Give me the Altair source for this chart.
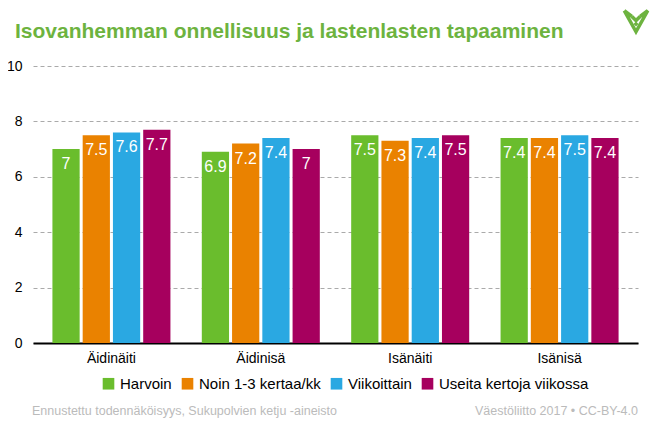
import altair as alt
import pandas as pd

groups = ["Äidinäiti", "Äidinisä", "Isänäiti", "Isänisä"]
series = ["Harvoin", "Noin 1-3 kertaa/kk", "Viikoittain", "Useita kertoja viikossa"]
colors = ["#6ABD2D", "#EA8200", "#2AA8E2", "#A6005E"]
values = {
    "Harvoin": [7.0, 6.9, 7.5, 7.4],
    "Noin 1-3 kertaa/kk": [7.5, 7.2, 7.3, 7.4],
    "Viikoittain": [7.6, 7.4, 7.4, 7.5],
    "Useita kertoja viikossa": [7.7, 7.0, 7.5, 7.4],
}

rows = []
for s in series:
    for g, v in zip(groups, values[s]):
        rows.append({"group": g, "series": s, "value": v, "label": f"{v:g}"})
df = pd.DataFrame(rows)

FONT = "Liberation Sans"
GREEN = "#6DB33F"

x = alt.X("group:N", sort=groups, title=None,
          scale=alt.Scale(paddingInner=0.21, paddingOuter=0.13),
          axis=alt.Axis(labelAngle=0, labelFontSize=14, labelColor="#000", labelFont=FONT,
                        ticks=False, domainColor="#000", domainWidth=2, labelPadding=8))
xo = alt.XOffset("series:N", sort=series, scale=alt.Scale(paddingInner=0.1))
y = alt.Y("value:Q", title=None, scale=alt.Scale(domain=[0, 10]),
          axis=alt.Axis(values=[0, 2, 4, 6, 8, 10], labelFontSize=14, labelColor="#000",
                        labelFont=FONT, ticks=False, domain=False, gridDash=[4, 3],
                        gridColor="#AAAAAA", labelPadding=11))

bars = alt.Chart(df).mark_bar().encode(
    x=x, xOffset=xo, y=y,
    color=alt.Color("series:N", sort=series, scale=alt.Scale(domain=series, range=colors),
                    legend=alt.Legend(title=None, orient="none", legendX=68, legendY=310,
                                      direction="horizontal", symbolType="square",
                                      symbolSize=135, symbolStrokeWidth=0, labelFontSize=15,
                                      labelFont=FONT, labelColor="#000", columnPadding=8,
                                      symbolOffset=0, labelOffset=4)),
)

labels = alt.Chart(df).mark_text(baseline="top", dy=7, color="white", fontSize=16, font=FONT).encode(
    x=x, xOffset=xo, y=y, text="label:N"
)

foot = pd.DataFrame({"t": ["Ennustettu todennäköisyys, Sukupolvien ketju -aineisto"]})
foot_l = alt.Chart(foot).mark_text(align="left", baseline="middle", color="#BBBBBB",
                                   fontSize=12.5, font=FONT).encode(
    x=alt.value(-1), y=alt.value(345), text="t:N")
foot2 = pd.DataFrame({"t": ["Väestöliitto 2017 • CC-BY-4.0"]})
foot_r = alt.Chart(foot2).mark_text(align="right", baseline="middle", color="#BBBBBB",
                                    fontSize=12.5, font=FONT).encode(
    x=alt.value(605), y=alt.value(345), text="t:N")

logo_df = pd.DataFrame({"k": ["logo"]})
logo_path = ("M-1,-0.8 L0,1 L1,-0.8 L0.35,-0.3 "
             "M-1,-0.8 L-0.35,-0.3 M-0.35,-0.3 L0,0.05 L0.35,-0.3")
logo = alt.Chart(logo_df).mark_point(shape=logo_path, filled=False, stroke=GREEN,
                                     strokeWidth=3.5, size=550, opacity=1).encode(
    x=alt.value(603), y=alt.value(-46))
dot = alt.Chart(logo_df).mark_point(shape="diamond", filled=True, color=GREEN,
                                    size=25, opacity=1).encode(
    x=alt.value(603), y=alt.value(-42))

chart = alt.layer(bars, labels, foot_l, foot_r, logo, dot).properties(
    width=605, height=277,
    title=alt.TitleParams("Isovanhemman onnellisuus ja lastenlasten tapaaminen",
                          anchor="start", frame="group", dx=-18, dy=62, fontSize=21, font=FONT,
                          fontWeight="bold", color=GREEN, offset=24),
    autosize=alt.AutoSizeParams(type="none"),
    padding={"left": 25, "top": 58, "right": 14, "bottom": 78},
).configure_view(stroke=None).configure_axisX(grid=False)

chart.save("out.html", embed_options={"renderer": "svg", "actions": False})
